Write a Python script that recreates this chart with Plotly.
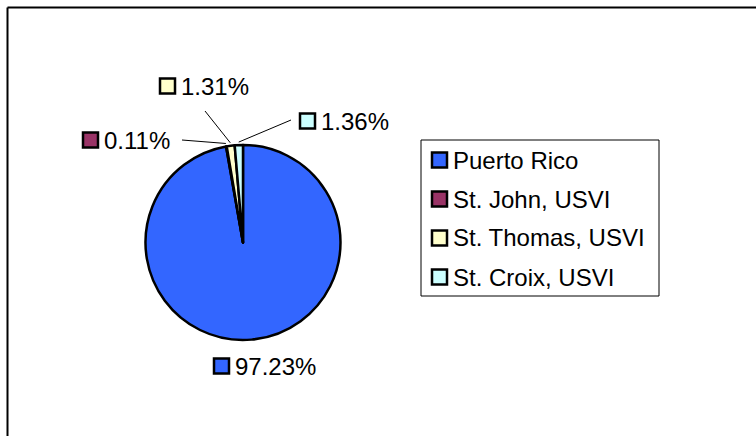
import math
import plotly.graph_objects as go

# Share of records by territory
categories = ["Puerto Rico", "St. John, USVI", "St. Thomas, USVI", "St. Croix, USVI"]
shares = [97.23, 0.11, 1.31, 1.36]
colors = ["#3366FF", "#993366", "#FFFFCC", "#CCFFFF"]

W, H = 756, 436
FONT = "Liberation Sans, Arial, sans-serif"
FS = 24


def px(x):
    return x / W


def py(y):
    return 1 - y / H


# pie geometry (pixels)
cx, cy, r = 243, 242.5, 97.5

fig = go.Figure(
    go.Pie(
        labels=categories,
        values=shares,
        sort=False,
        direction="clockwise",
        rotation=0,
        textinfo="none",
        hoverinfo="label+percent",
        marker=dict(colors=colors, line=dict(color="black", width=2.5)),
        domain=dict(x=[px(cx - r), px(cx + r)], y=[py(cy + r), py(cy - r)]),
        showlegend=False,
    )
)

shapes = []
annotations = []

# outer chart frame
shapes.append(dict(type="line", xref="paper", yref="paper",
                   x0=px(7.5), y0=py(7.5), x1=1.05, y1=py(7.5),
                   line=dict(color="black", width=2)))
shapes.append(dict(type="line", xref="paper", yref="paper",
                   x0=px(7.5), y0=py(7.5), x1=px(7.5), y1=-0.05,
                   line=dict(color="black", width=2)))


def swatch(x, y, color, size=15):
    shapes.append(dict(type="rect", xref="paper", yref="paper",
                       x0=px(x), x1=px(x + size), y0=py(y + size / 2), y1=py(y - size / 2),
                       fillcolor=color, line=dict(color="black", width=2.5)))


def text(x, y, s):
    annotations.append(dict(x=px(x), y=py(y), xref="paper", yref="paper",
                            text=s, showarrow=False, xanchor="left", yanchor="middle",
                            font=dict(family=FONT, size=FS, color="black")))


# data labels: swatch left edge, label row centre, leader-line start
label_pos = [
    (214, 366, None),
    (83, 140, (182, 140)),
    (160, 86, (205, 111)),
    (300, 121, (291, 120)),
]

cum = 0.0
total = sum(shares)
for cat, v, col, (lx, ly, lead) in zip(categories, shares, colors, label_pos):
    mid = (cum + v / 2) / total * 2 * math.pi
    cum += v
    swatch(lx, ly, col)
    text(lx + 19, ly, f"{v:.2f}%")
    if lead is not None:
        ex = cx + (r + 3) * math.sin(mid)
        ey = cy - (r + 3) * math.cos(mid)
        shapes.append(dict(type="line", xref="paper", yref="paper",
                           x0=px(lead[0]), y0=py(lead[1]), x1=px(ex), y1=py(ey),
                           line=dict(color="black", width=1)))

# legend box
shapes.append(dict(type="rect", xref="paper", yref="paper",
                   x0=px(421), x1=px(659), y0=py(296), y1=py(140),
                   fillcolor="white", line=dict(color="black", width=1)))
for i, (cat, col) in enumerate(zip(categories, colors)):
    ry = 160 + i * 39
    swatch(432, ry, col)
    text(451, ry, cat)

fig.update_layout(
    width=W, height=H,
    margin=dict(l=0, r=0, t=0, b=0),
    paper_bgcolor="white",
    plot_bgcolor="white",
    shapes=shapes,
    annotations=annotations,
    showlegend=False,
)

fig.write_html("out.html")
